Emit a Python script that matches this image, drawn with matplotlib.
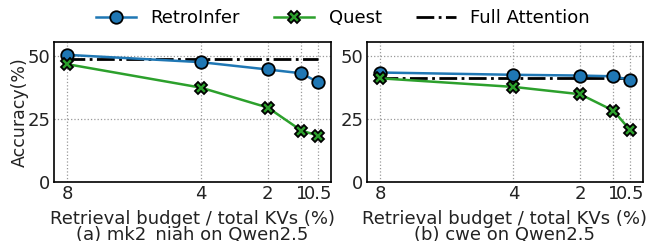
import matplotlib
matplotlib.use("Agg")
import matplotlib.pyplot as plt
from matplotlib.lines import Line2D

budgets = [8, 4, 2, 1, 0.5]
tick_labels = ["8", "4", "2", "1", "0.5"]

retro_a = [50.4, 47.5, 44.6, 43.1, 39.6]
quest_a = [46.7, 37.4, 29.5, 20.4, 18.4]
full_a = 48.7

retro_b = [43.4, 42.5, 42.2, 41.9, 40.5]
quest_b = [41.1, 37.7, 34.8, 28.3, 20.6]
full_b = 41.4

xlabel = "Retrieval budget / total KVs (%)"
titles = ["(a) mk2_niah on Qwen2.5", "(b) cwe on Qwen2.5"]

plt.rcParams['font.family'] = ['DejaVu Sans']
fig = plt.figure(figsize=(6.57, 2.41), dpi=100)
W, H = 657, 241
ax1 = fig.add_axes([54 / W, 1 - 182 / H, (331 - 54) / W, (182 - 42) / H])
ax2 = fig.add_axes([367 / W, 1 - 182 / H, (643 - 367) / W, (182 - 42) / H])

blue = '#1f77b4'
green = '#2ca02c'
tc = '#222222'

for ax, r, q, f, t in [(ax1, retro_a, quest_a, full_a, titles[0]),
                       (ax2, retro_b, quest_b, full_b, titles[1])]:
    ax.plot(budgets, [f] * len(budgets), color='black', linestyle='-.', linewidth=2, zorder=2)
    ax.plot(budgets, r, color=blue, marker='o', markersize=9, markeredgecolor='black',
            markeredgewidth=1.3, linewidth=1.8, zorder=3)
    ax.plot(budgets, q, color=green, marker='X', markersize=9, markeredgecolor='black',
            markeredgewidth=1.3, linewidth=1.8, zorder=3)
    ax.set_xlim(8.4, 0.11)
    ax.set_ylim(0, 55.5)
    ax.set_xticks(budgets)
    ax.set_xticklabels(tick_labels)
    ax.set_yticks([0, 25, 50])
    ax.tick_params(length=0, labelsize=13, pad=2.5, colors=tc)
    ax.grid(True, linestyle=':', color='#999999', linewidth=0.9)
    ax.set_axisbelow(True)
    for s in ax.spines.values():
        s.set_linewidth(1.2)
    pos = ax.get_position()
    cx = (pos.x0 + pos.x1) / 2
    fig.text(cx, 1 - 224 / H, xlabel, ha='center', va='baseline', fontsize=13, color=tc)
    fig.text(cx, 1 - 240 / H, t, ha='center', va='baseline', fontsize=13, color=tc)

ax1.set_ylabel("Accuracy(%)", fontsize=12.5, labelpad=-1, color=tc)

handles = [
    Line2D([], [], color=blue, marker='o', markersize=9, markeredgecolor='black', markeredgewidth=1.3, linewidth=1.8),
    Line2D([], [], color=green, marker='X', markersize=9, markeredgecolor='black', markeredgewidth=1.3, linewidth=1.8),
    Line2D([], [], color='black', linestyle='-.', linewidth=2),
]
fig.legend(handles, ["RetroInfer", "Quest", "Full Attention"], loc='center',
           bbox_to_anchor=(343 / W, 1 - 18 / H), ncol=3, frameon=False, fontsize=13,
           columnspacing=1.9, handlelength=2.2, handletextpad=0.8)

fig.savefig("out.png", dpi=100)
